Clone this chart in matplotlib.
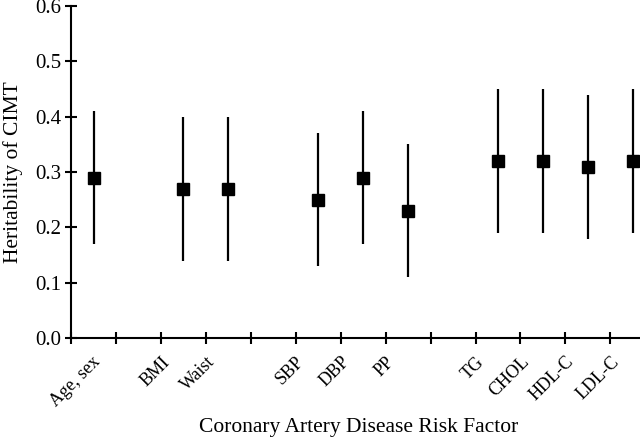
import numpy as np
import matplotlib
matplotlib.use("Agg")
import matplotlib.pyplot as plt

# data
factores = ['Age, sex', 'BMI', 'Waist', 'SBP', 'DBP', 'PP', 'TG', 'CHOL', 'HDL-C', 'LDL-C']
slots = [0, 2, 3, 5, 6, 7, 9, 10, 11, 12]   # category slot (gaps separate groups)
herit = [0.29, 0.27, 0.27, 0.25, 0.29, 0.23, 0.32, 0.32, 0.31, 0.32]
ic_inf = [0.17, 0.14, 0.14, 0.13, 0.17, 0.11, 0.19, 0.19, 0.18, 0.19]
ic_sup = [0.41, 0.40, 0.40, 0.37, 0.41, 0.35, 0.45, 0.45, 0.44, 0.45]

plt.rcParams['font.family'] = ['Liberation Serif', 'DejaVu Serif']

fig = plt.figure(figsize=(6.4, 4.38), dpi=100)
ax = fig.add_axes([0.111, 0.228, 0.889, 0.758])

x = np.array(slots) + 0.5
y = np.array(herit)
err = [y - np.array(ic_inf), np.array(ic_sup) - y]
ax.errorbar(x, y, yerr=err, fmt='s', color='black', ecolor='black',
            elinewidth=1.6, capsize=0, markersize=9, clip_on=False)

ax.set_xlim(0, 12.66)
ax.set_ylim(0, 0.6)
ax.set_xticks(np.arange(0, 13))
ax.set_xticklabels([])
ax.set_yticks(np.arange(0, 0.61, 0.1))
ax.set_yticklabels([f"{v:.1f}" for v in np.arange(0, 0.61, 0.1)], fontsize=15)
ax.tick_params(direction='inout', length=8.5, width=1.5, pad=3)

# rotated category labels, hung from the left edge of each slot
# (first one kept clear of the y axis)
ax.xaxis.remove_overlapping_locs = False
pos_rot = np.clip(np.array(slots, dtype=float), 0.47, None)
ax.set_xticks(pos_rot, minor=True)
ax.set_xticklabels(factores, minor=True, rotation=45, ha='right',
                   rotation_mode='anchor', fontsize=13)
ax.tick_params(axis='x', which='minor', length=0, pad=11)

for lado in ['top', 'right']:
    ax.spines[lado].set_visible(False)
for lado in ['left', 'bottom']:
    ax.spines[lado].set_linewidth(1.5)

ax.set_ylabel("Heritability of CIMT", fontsize=15.5)
ax.yaxis.set_label_coords(-0.085, 0.5)
ax.set_xlabel("Coronary Artery Disease Risk Factor", fontsize=15.5)
ax.xaxis.set_label_coords(0.506, -0.24)

fig.savefig("out.png", dpi=100)
